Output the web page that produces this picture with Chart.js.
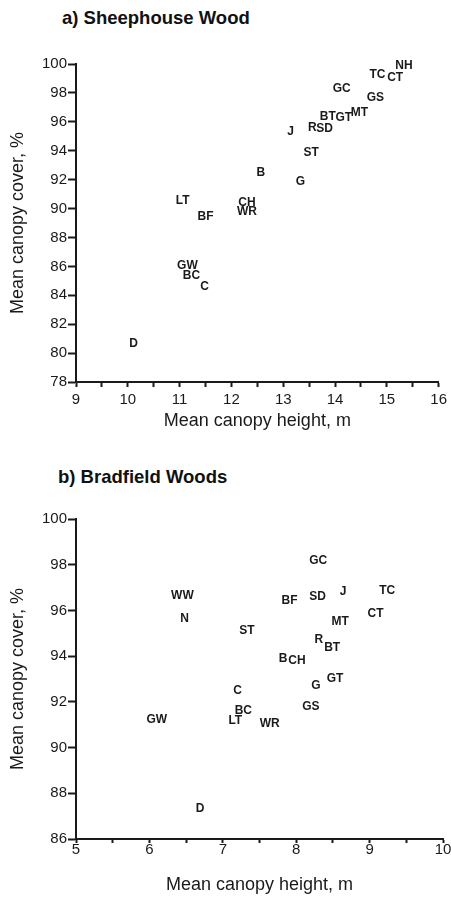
<!DOCTYPE html>
<html>
<head>
<meta charset="utf-8">
<script src="https://cdn.jsdelivr.net/npm/chart.js@4"></script>
<style>
body { margin: 0; background: #fff; width: 451px; height: 897px; position: relative; overflow: hidden; font-family: "Liberation Sans", Arial, sans-serif; }
.ttl { position: absolute; font-weight: bold; font-size: 18.5px; line-height: 18px; color: #111; white-space: nowrap; }
canvas { position: absolute; left: 0; }
</style>
</head>
<body>
<div class="ttl" style="left:62px;top:9px">a) Sheephouse Wood</div>
<canvas id="chartA" width="451" height="440" style="top:0"></canvas>
<div class="ttl" style="left:58px;top:468px">b) Bradfield Woods</div>
<canvas id="chartB" width="451" height="457" style="top:440px"></canvas>
<script>
// a) Sheephouse Wood
const aCodes  = ['NH', 'TC', 'CT', 'GC', 'GS', 'MT', 'BT', 'GT', 'R', 'SD', 'J', 'ST', 'B', 'G', 'LT', 'CH', 'WR', 'BF', 'GW', 'BC', 'C', 'D'];
const aHeight = [15.33, 14.82, 15.16, 14.13, 14.78, 14.47, 13.86, 14.17, 13.56, 13.80, 13.14, 13.54, 12.57, 13.33, 11.06, 12.30, 12.30, 11.50, 11.15, 11.23, 11.48, 10.11];
const aCover  = [99.86, 99.24, 99.03, 98.27, 97.65, 96.61, 96.33, 96.26, 95.60, 95.55, 95.29, 93.84, 92.46, 91.83, 90.52, 90.38, 89.76, 89.41, 86.02, 85.33, 84.57, 80.62];

// b) Bradfield Woods
const bCodes  = ['GC', 'WW', 'N', 'BF', 'SD', 'J', 'TC', 'CT', 'MT', 'ST', 'R', 'BT', 'B', 'CH', 'GT', 'G', 'C', 'GS', 'BC', 'LT', 'WR', 'GW', 'D'];
const bHeight = [8.30, 6.45, 6.48, 7.91, 8.29, 8.64, 9.24, 9.08, 8.60, 7.33, 8.31, 8.49, 7.82, 8.01, 8.53, 8.27, 7.20, 8.20, 7.28, 7.17, 7.64, 6.10, 6.69];
const bCover  = [98.19, 96.66, 95.63, 96.42, 96.61, 96.80, 96.86, 95.84, 95.52, 95.12, 94.72, 94.37, 93.91, 93.81, 93.01, 92.71, 92.48, 91.78, 91.61, 91.16, 91.04, 91.24, 87.32];

const xTitle = 'Mean canopy height, m';
const yTitle = 'Mean canopy cover, %';
const ink = '#1a1a1a';
const sans = '"Liberation Sans", Arial, sans-serif';

// draws the site codes in place of point markers
const codeLabels = {
    id: 'codeLabels',
    afterDatasetsDraw(chart) {
        const ctx = chart.ctx;
        const codes = chart.data.datasets[0].codes;
        ctx.save();
        ctx.font = 'bold 12px ' + sans;
        ctx.fillStyle = ink;
        ctx.textAlign = 'center';
        ctx.textBaseline = 'middle';
        chart.getDatasetMeta(0).data.forEach((pt, i) => {
            ctx.fillText(codes[i], pt.x, pt.y);
        });
        ctx.restore();
    }
};

function makeChart(id, codes, xs, ys, s) {
    return new Chart(document.getElementById(id), {
        type: 'scatter',
        data: {
            datasets: [{
                data: xs.map((x, i) => ({ x: x, y: ys[i] })),
                codes: codes,
                pointRadius: 0,
                pointHoverRadius: 0
            }]
        },
        options: {
            responsive: false,
            animation: false,
            events: [],
            layout: { padding: { top: s.padTop, right: 8, left: 0, bottom: 0 } },
            plugins: { legend: { display: false }, tooltip: { enabled: false } },
            scales: {
                x: {
                    type: 'linear',
                    min: s.xMin, max: s.xMax,
                    afterFit: sc => { sc.height = 58; },
                    border: { display: true, color: ink, width: 2 },
                    grid: { display: true, drawOnChartArea: false, drawTicks: true, tickLength: s.xTickLen, tickColor: ink, tickWidth: 2 },
                    ticks: {
                        stepSize: 0.5,
                        autoSkip: false,
                        maxRotation: 0,
                        padding: s.xPad,
                        color: ink,
                        font: { family: sans, size: 15 },
                        callback: v => Number.isInteger(v) ? v : ''
                    },
                    title: {
                        display: true, text: xTitle, color: ink,
                        font: { family: sans, size: 18 },
                        padding: { top: 0, bottom: s.xTitlePad }
                    }
                },
                y: {
                    type: 'linear',
                    min: s.yMin, max: s.yMax,
                    afterFit: sc => { sc.width = 76; },
                    border: { display: true, color: ink, width: 2 },
                    grid: { display: true, drawOnChartArea: false, drawTicks: true, tickLength: 8, tickColor: ink, tickWidth: 2 },
                    ticks: {
                        stepSize: 2,
                        padding: 1,
                        color: ink,
                        font: { family: sans, size: 15 }
                    },
                    title: {
                        display: true, text: yTitle, color: ink,
                        font: { family: sans, size: 18 },
                        padding: { top: 7, bottom: 0 }
                    }
                }
            }
        },
        plugins: [codeLabels]
    });
}

makeChart('chartA', aCodes, aHeight, aCover,
    { padTop: 64, xMin: 9, xMax: 16, yMin: 78, yMax: 100, xTickLen: 5, xPad: 4, xTitlePad: 8 });
makeChart('chartB', bCodes, bHeight, bCover,
    { padTop: 79, xMin: 5, xMax: 10, yMin: 86, yMax: 100, xTickLen: 4, xPad: -2, xTitlePad: 1 });
</script>
</body>
</html>
